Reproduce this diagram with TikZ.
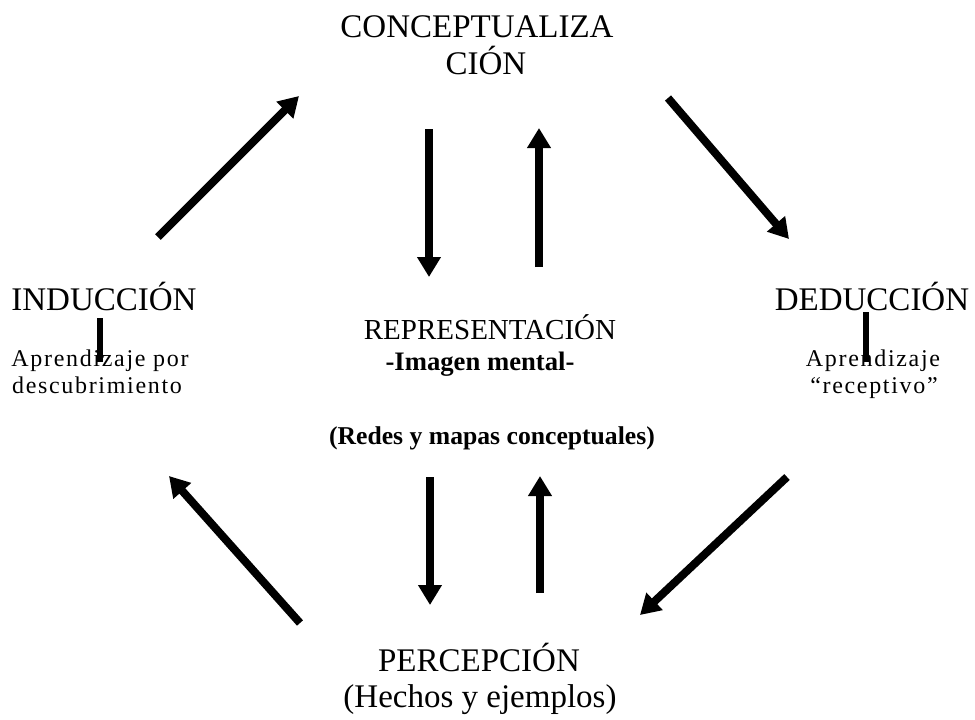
\documentclass[tikz,border=0pt]{standalone}
\usepackage{fontspec}
\setmainfont{Liberation Serif}
\usetikzlibrary{arrows.meta}
\tikzset{
  big/.style={anchor=base, inner sep=0pt, font=\fontsize{24.75pt}{27.75pt}\selectfont},
  rep/.style={anchor=base, inner sep=0pt, font=\fontsize{21.75pt}{24pt}\selectfont},
  boldtxt/.style={anchor=base, inner sep=0pt, font=\fontsize{20pt}{24pt}\selectfont\bfseries},
  smalltxt/.style={anchor=base, inner sep=0pt, font=\fontsize{18pt}{20.25pt}\selectfont\addfontfeature{LetterSpace=7}},
  thickarrow/.style={line width=6pt, -{Triangle[width=17pt,length=15pt]}},
  bar/.style={line width=5pt}
}
\begin{document}
\begin{tikzpicture}[x=0.75pt,y=-0.75pt]
\useasboundingbox[fill=white] (0,0) rectangle (975,719);
% text nodes
\node[big] (concept) at (477,37) {CONCEPTUALIZA};
\node[big] (cion) at (486,74) {CIÓN};
\node[big] (induc) at (104,310) {INDUCCIÓN};
\node[big] (deduc) at (872,310) {DEDUCCIÓN};
\node[rep] (repr) at (490,339) {REPRESENTACIÓN};
\node[boldtxt] (imagen) at (480,370) {-Imagen mental-};
\node[smalltxt] (aprl1) at (100,366) {Aprendizaje por};
\node[smalltxt] (aprl2) at (97,393) {descubrimiento};
\node[smalltxt] (aprr1) at (873,366) {Aprendizaje};
\node[smalltxt] (aprr2) at (874,393) {“receptivo”};
\node[boldtxt, font=\fontsize{19.25pt}{24pt}\selectfont\bfseries] (redes) at (492,444) {(Redes y mapas conceptuales)};
\node[big] (percep) at (479,671) {PERCEPCIÓN};
\node[big] (hechos) at (480,707) {(Hechos y ejemplos)};
% bars
\coordinate (bl1) at (100,318); \coordinate (bl2) at (100,362);
\coordinate (br1) at (866,312); \coordinate (br2) at (866,362);
\draw[bar] (bl1) -- (bl2);
\draw[bar] (br1) -- (br2);
% arrow endpoints
\coordinate (a1s) at (158,237); \coordinate (a1e) at (299,96);
\coordinate (a2s) at (668,98);  \coordinate (a2e) at (789,239);
\coordinate (a3s) at (300,623); \coordinate (a3e) at (169,476);
\coordinate (a4s) at (787,477); \coordinate (a4e) at (640,615);
\coordinate (v1s) at (429,129); \coordinate (v1e) at (429,277);
\coordinate (v2s) at (539,267); \coordinate (v2e) at (539,128);
\coordinate (v3s) at (430,477); \coordinate (v3e) at (430,605);
\coordinate (v4s) at (540,593); \coordinate (v4e) at (540,476);
\foreach \s/\e in {a1s/a1e,a2s/a2e,a3s/a3e,a4s/a4e,v1s/v1e,v2s/v2e,v3s/v3e,v4s/v4e}
  \draw[thickarrow] (\s) -- (\e);
\end{tikzpicture}
\end{document}
